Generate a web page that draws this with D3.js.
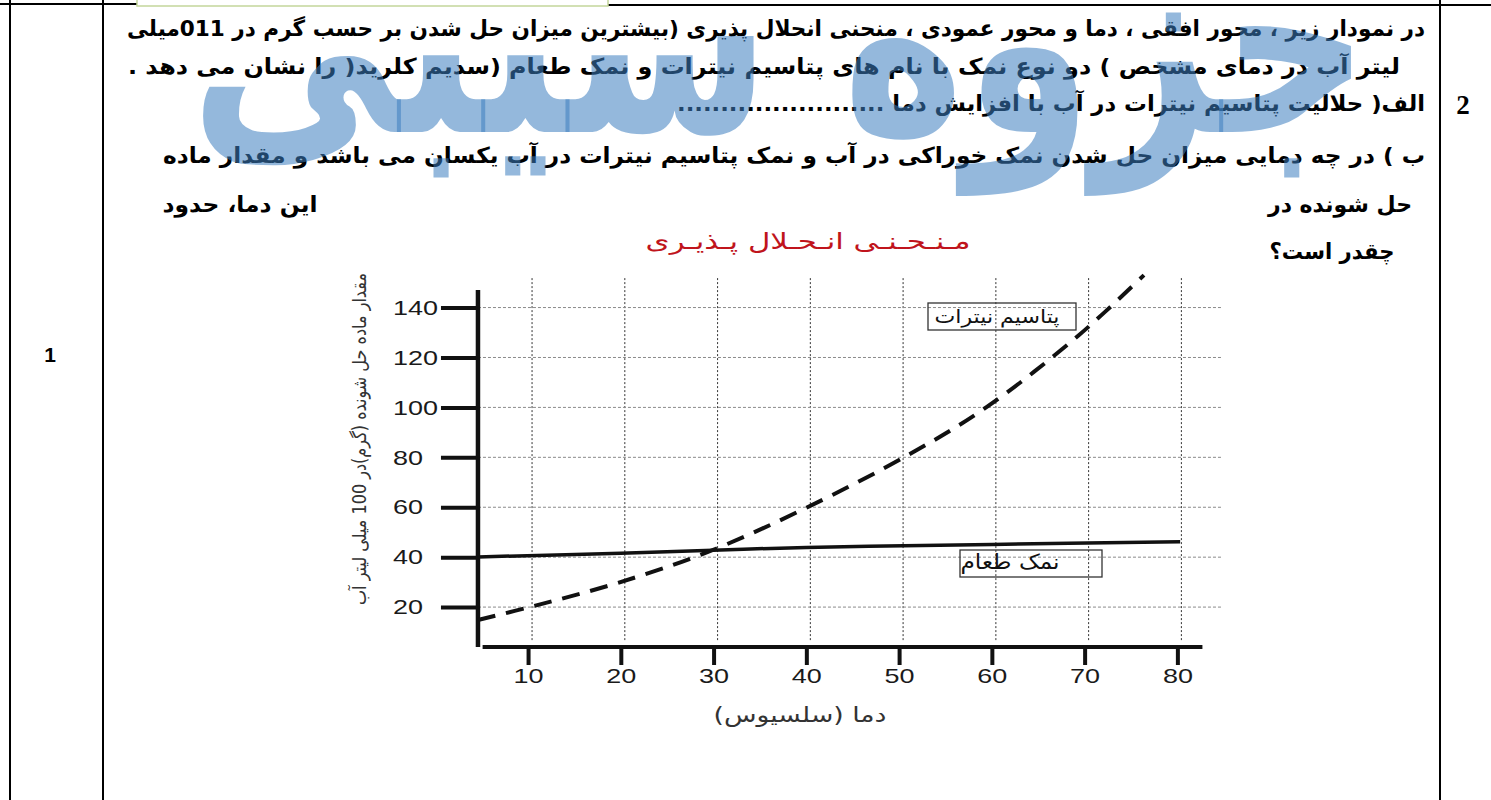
<!DOCTYPE html>
<html>
<head>
<meta charset="utf-8">
<script src="https://cdn.jsdelivr.net/npm/d3@7"></script>
<style>
  body { margin: 0; background: #fff; }
  svg { display: block; }
</style>
</head>
<body>
<div id="page"></div>
<script>
// chart values
const xTicks = [10, 20, 30, 40, 50, 60, 70, 80];
const yTicks = [20, 40, 60, 80, 100, 120, 140];

// potassium nitrate (dashed curve)
const kno3Temps  = [4.6, 11, 19.6, 29.4, 39.9, 51.3, 59.5, 69.4, 76.4];
const kno3Values = [14.8, 20.8, 29.6, 42.1, 59.6, 81.6, 100.3, 129, 153];

// table salt (solid line)
const saltTemps  = [4.6, 20, 40, 60, 80.3];
const saltValues = [40.1, 41.6, 43.9, 45.1, 46.2];

// question text, one entry per printed line
const questionLines = [
  "در نمودار زیر ، محور افقی ، دما و محور عمودی ، منحنی انحلال پذیری (بیشترین میزان حل شدن بر حسب گرم در 011میلی",
  "لیتر آب در دمای مشخص ) دو نوع نمک با نام های پتاسیم نیترات و نمک طعام  (سدیم کلرید( را نشان می دهد .",
  "الف( حلالیت پتاسیم نیترات در آب با افزایش دما ........................",
  "ب ) در چه دمایی میزان حل شدن نمک خوراکی در آب و نمک پتاسیم نیترات در آب یکسان می باشد و مقدار ماده",
  "حل شونده در",
  "این دما، حدود",
  "چقدر است؟"
];

const W = 1491, H = 800;
const svg = d3.select("#page").append("svg")
    .attr("width", W)
    .attr("height", H);

const arabicFont = "'DejaVu Sans', sans-serif";
const latinFont = "'Liberation Sans', Arial, sans-serif";

// ---- table frame ----
const frame = svg.append("g").attr("stroke", "#000").attr("stroke-width", 2);
frame.append("line").attr("x1", 10).attr("x2", 10).attr("y1", 0).attr("y2", H);
frame.append("line").attr("x1", 103).attr("x2", 103).attr("y1", 0).attr("y2", H);
frame.append("line").attr("x1", 1440).attr("x2", 1440).attr("y1", 0).attr("y2", H);
frame.append("line").attr("x1", 0).attr("x2", 137).attr("y1", 4).attr("y2", 4);
frame.append("line").attr("x1", 608).attr("x2", W).attr("y1", 5).attr("y2", 5);
svg.append("rect")
    .attr("x", 137).attr("y", -2).attr("width", 471).attr("height", 8)
    .attr("fill", "none").attr("stroke", "#c3d69b").attr("stroke-width", 1.5);

svg.append("text")
    .attr("x", 50).attr("y", 362)
    .attr("text-anchor", "middle")
    .style("font-family", latinFont).style("font-weight", "bold").style("font-size", "21px")
    .text("1");

svg.append("text")
    .attr("x", 1463).attr("y", 114)
    .attr("text-anchor", "middle")
    .style("font-family", "'Liberation Serif', serif").style("font-weight", "bold").style("font-size", "27px")
    .text("2");

// ---- question text ----
const lineLayout = [
  {cx: 776, y: 36, len: 1298},
  {cx: 764, y: 74, len: 1272},
  {cx: 1051, y: 111, len: 748},
  {cx: 794, y: 163, len: 1262},
  {cx: 1340, y: 212, len: 144},
  {cx: 240, y: 212, len: 155},
  {cx: 1332, y: 259, len: 125}
];

questionLines.forEach((t, i) => {
    const L = lineLayout[i];
    svg.append("text")
        .attr("x", L.cx).attr("y", L.y)
        .attr("text-anchor", "middle")
        .attr("direction", "rtl")
        .attr("textLength", L.len)
        .attr("lengthAdjust", "spacingAndGlyphs")
        .style("font-family", arabicFont)
        .style("font-weight", "bold")
        .style("font-size", "22px")
        .attr("fill", "#000")
        .text(t);
});

// ---- chart ----
const x = d3.scaleLinear().domain([0, 100]).range([435.3, 1362.9]);
const y = d3.scaleLinear().domain([0, 100]).range([657, 407.4]);

// title
svg.append("text")
    .attr("x", 808).attr("y", 249)
    .attr("text-anchor", "middle")
    .attr("direction", "rtl")
    .attr("textLength", 325)
    .attr("lengthAdjust", "spacingAndGlyphs")
    .style("font-family", arabicFont)
    .style("font-size", "23px")
    .attr("fill", "#c0141c")
    .text("مـنـحـنـی   انـحـلال   پـذیـری");

// grid
const grid = svg.append("g");
grid.selectAll(".vgrid")
    .data(xTicks)
    .enter()
    .append("line")
    .attr("class", "vgrid")
    .attr("x1", d => x(d) + 4).attr("x2", d => x(d) + 4)
    .attr("y1", y(151.8)).attr("y2", y(6))
    .attr("stroke", "#333")
    .attr("stroke-width", 1)
    .attr("stroke-dasharray", "2,2");

grid.selectAll(".hgrid")
    .data(yTicks)
    .enter()
    .append("line")
    .attr("class", "hgrid")
    .attr("x1", x(4.6)).attr("x2", x(84.8))
    .attr("y1", d => y(d)).attr("y2", d => y(d))
    .attr("stroke", "#8a8a8a")
    .attr("stroke-width", 1)
    .attr("stroke-dasharray", "3,2");

// axes
const yAxisX = x(4.6);
const gy = svg.append("g")
    .attr("transform", `translate(${yAxisX},0)`)
    .call(d3.axisLeft(y).tickValues(yTicks).tickSize(37).tickSizeOuter(0));
gy.select(".domain").remove();
gy.selectAll(".tick line").attr("stroke", "#111").attr("stroke-width", 4);
gy.selectAll(".tick text")
    .attr("text-anchor", "start")
    .attr("x", 393 - yAxisX)
    .attr("textLength", d => String(d).length * 15)
    .attr("lengthAdjust", "spacingAndGlyphs")
    .attr("fill", "#1a1a1a")
    .style("font-family", latinFont)
    .style("font-size", "21px");

svg.append("line")
    .attr("x1", yAxisX).attr("x2", yAxisX)
    .attr("y1", y(147)).attr("y2", y(4))
    .attr("stroke", "#111").attr("stroke-width", 4.5);

const xAxisY = y(4);
const gx = svg.append("g")
    .attr("transform", `translate(0,${xAxisY})`)
    .call(d3.axisBottom(x).tickValues(xTicks).tickSize(18).tickPadding(3).tickSizeOuter(0));
gx.select(".domain").remove();
gx.selectAll(".tick line").attr("stroke", "#111").attr("stroke-width", 4);
gx.selectAll(".tick text")
    .attr("textLength", 30)
    .attr("lengthAdjust", "spacingAndGlyphs")
    .attr("fill", "#1a1a1a")
    .style("font-family", latinFont)
    .style("font-size", "21px");

svg.append("line")
    .attr("x1", x(5.1)).attr("x2", x(82.7))
    .attr("y1", xAxisY).attr("y2", xAxisY)
    .attr("stroke", "#111").attr("stroke-width", 4);

// axis titles
svg.append("text")
    .attr("transform", `translate(366,${439}) rotate(-90)`)
    .attr("text-anchor", "middle")
    .attr("direction", "rtl")
    .attr("textLength", 332)
    .attr("lengthAdjust", "spacingAndGlyphs")
    .attr("fill", "#333")
    .style("font-family", arabicFont)
    .style("font-size", "19px")
    .text("مقدار ماده حل شونده (گرم)در 100 میلی لیتر آب");

svg.append("text")
    .attr("x", 800).attr("y", 722)
    .attr("text-anchor", "middle")
    .attr("direction", "rtl")
    .attr("textLength", 173)
    .attr("lengthAdjust", "spacingAndGlyphs")
    .attr("fill", "#333")
    .style("font-family", arabicFont)
    .style("font-size", "21px")
    .text("دما (سلسیوس)");

// lines
const kno3 = kno3Temps.map((t, i) => ({t, v: kno3Values[i]}));
const salt = saltTemps.map((t, i) => ({t, v: saltValues[i]}));

const line = d3.line()
    .x(d => x(d.t))
    .y(d => y(d.v))
    .curve(d3.curveCatmullRom);

svg.append("path")
    .datum(salt)
    .attr("d", line)
    .attr("fill", "none")
    .attr("stroke", "#111")
    .attr("stroke-width", 3.5);

svg.append("path")
    .datum(kno3)
    .attr("d", line)
    .attr("fill", "none")
    .attr("stroke", "#111")
    .attr("stroke-width", 4)
    .attr("stroke-dasharray", "18,11");

// labels in boxes
svg.append("rect")
    .attr("x", 928).attr("y", 303).attr("width", 148).attr("height", 27)
    .attr("fill", "none").attr("stroke", "#333").attr("stroke-width", 1.3);
svg.append("text")
    .attr("x", 997).attr("y", 323)
    .attr("text-anchor", "middle")
    .attr("direction", "rtl")
    .attr("textLength", 125)
    .attr("lengthAdjust", "spacingAndGlyphs")
    .attr("fill", "#111")
    .style("font-family", arabicFont)
    .style("font-size", "19px")
    .text("پتاسیم نیترات");

svg.append("rect")
    .attr("x", 960).attr("y", 550).attr("width", 142).attr("height", 27)
    .attr("fill", "none").attr("stroke", "#333").attr("stroke-width", 1.3);
svg.append("text")
    .attr("x", 1010).attr("y", 569)
    .attr("text-anchor", "middle")
    .attr("direction", "rtl")
    .attr("textLength", 99)
    .attr("lengthAdjust", "spacingAndGlyphs")
    .attr("fill", "#111")
    .style("font-family", arabicFont)
    .style("font-size", "21px")
    .text("نمک طعام");

// watermark over everything
svg.append("text")
    .attr("x", 780).attr("y", 132)
    .attr("text-anchor", "middle")
    .attr("direction", "rtl")
    .attr("textLength", 1180)
    .attr("lengthAdjust", "spacingAndGlyphs")
    .attr("fill", "rgb(60,126,191)")
    .attr("fill-opacity", 0.55)
    .style("font-family", arabicFont)
    .style("font-weight", "bold")
    .style("font-size", "262px")
    .text("جزوه سیبی");
</script>
</body>
</html>
